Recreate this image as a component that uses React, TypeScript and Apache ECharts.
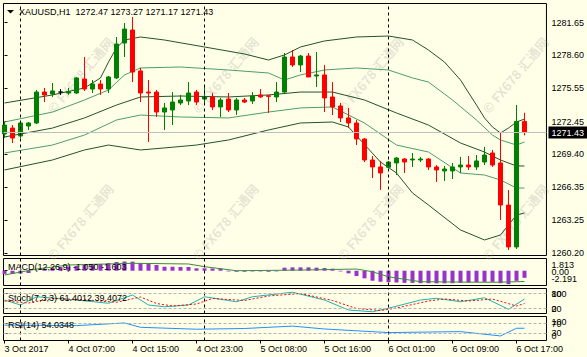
import React, { useEffect, useRef } from "react";
import * as echarts from "echarts";

const FONT = "Liberation Sans, Arial, sans-serif";
const title = "XAUUSD,H1  1272.47 1273.27 1271.17 1271.43";
const timeLabels = ["3 Oct 2017", "4 Oct 07:00", "4 Oct 15:00", "4 Oct 23:00", "5 Oct 08:00", "5 Oct 16:00", "6 Oct 01:00", "6 Oct 09:00", "6 Oct 17:00"];
const timeLabelBars = [0, 8, 16, 24, 32, 40, 48, 56, 64];
const daySeparatorBars = [2, 25, 48];
const priceTicks = [1281.65, 1278.6, 1275.55, 1272.45, 1269.4, 1266.35, 1263.25, 1260.2];
const lastPrice = 1271.43;
const macdMax = 1.813;
const macdMin = -2.191;
const macdTicks = [macdMax, 0, macdMin];
const oscEdges = [0, 100];
const stochLevels = [20, 80];
const rsiLevels = [30, 70];
const macdText = "MACD(12,26,9) -1.050 -1.603";
const stochText = "Stoch(7,3,3) 61.4012 39.4072";
const rsiText = "RSI(14) 54.0348";
const watermark = "© FX678 汇通网";

// [open, close, low, high]
const candles = [
  [1271.3, 1272.13, 1270.92, 1272.41], [1271.85, 1270.92, 1270.46, 1272.13], [1271.11, 1272.32, 1270.92, 1272.41],
  [1272.04, 1272.32, 1271.67, 1272.41], [1272.32, 1275.2, 1272.23, 1275.39], [1275.2, 1274.93, 1274.27, 1275.58],
  [1275.02, 1275.3, 1274.74, 1276.04], [1275.2, 1275.2, 1274.93, 1275.48], [1275.11, 1275.25, 1274.93, 1275.58],
  [1275.11, 1276.51, 1275.02, 1276.6], [1276.41, 1275.48, 1275.3, 1278.46], [1275.48, 1275.95, 1275.11, 1276.32],
  [1275.95, 1275.48, 1274.93, 1276.32], [1275.48, 1276.6, 1275.11, 1276.69], [1276.51, 1279.67, 1276.41, 1280.32],
  [1279.76, 1281.06, 1278.46, 1281.62], [1280.97, 1277.06, 1276.13, 1282.18], [1277.16, 1275.11, 1274.27, 1277.44],
  [1275.2, 1275.11, 1270.55, 1276.32], [1275.2, 1273.34, 1272.88, 1275.39], [1273.34, 1273.72, 1271.67, 1274.18],
  [1273.53, 1274.27, 1272.13, 1275.2], [1274.18, 1274.46, 1273.99, 1274.93], [1274.37, 1275.11, 1273.99, 1276.13],
  [1275.2, 1274.27, 1273.99, 1275.39], [1274.55, 1274.74, 1273.99, 1275.67], [1274.74, 1273.81, 1273.53, 1275.11],
  [1273.81, 1274.46, 1272.88, 1274.65], [1274.55, 1273.53, 1273.34, 1275.11], [1273.53, 1274.46, 1273.06, 1274.65],
  [1274.46, 1274.27, 1274.18, 1274.65], [1274.37, 1274.83, 1274.1, 1275.2], [1274.93, 1274.74, 1274.65, 1275.48],
  [1274.85, 1274.8, 1273.25, 1274.93], [1274.74, 1275.2, 1274.27, 1276.13], [1275.2, 1278.46, 1275.11, 1278.83],
  [1278.46, 1277.72, 1277.53, 1279.11], [1277.72, 1278.55, 1277.06, 1278.65], [1278.55, 1276.6, 1276.6, 1278.83],
  [1276.69, 1276.79, 1275.67, 1278.92], [1276.79, 1274.65, 1273.34, 1277.72], [1274.74, 1273.81, 1273.06, 1276.13],
  [1273.9, 1272.79, 1272.41, 1274.18], [1272.79, 1272.32, 1271.85, 1273.72], [1272.32, 1270.83, 1270.27, 1272.6],
  [1270.83, 1268.88, 1268.69, 1270.92], [1268.88, 1268.23, 1267.2, 1269.25], [1268.23, 1267.67, 1266.09, 1268.79],
  [1268.2, 1268.69, 1268.2, 1268.79], [1268.6, 1269.06, 1267.48, 1269.16], [1268.97, 1268.69, 1267.67, 1269.06],
  [1268.88, 1268.97, 1268.23, 1269.53], [1268.88, 1268.97, 1268.69, 1269.16], [1268.97, 1268.23, 1267.95, 1269.06],
  [1268.23, 1267.95, 1266.83, 1268.41], [1267.86, 1268.04, 1266.93, 1268.32], [1267.86, 1268.23, 1267.11, 1268.6],
  [1268.23, 1268.41, 1267.67, 1269.16], [1268.41, 1268.23, 1267.95, 1269.25], [1268.23, 1268.79, 1267.95, 1269.34],
  [1268.69, 1269.34, 1268.41, 1270.09], [1269.53, 1268.41, 1268.23, 1269.81], [1268.6, 1264.69, 1263.3, 1271.39],
  [1264.69, 1260.79, 1260.51, 1266.09], [1260.79, 1272.47, 1260.6, 1273.99], [1272.47, 1271.43, 1271.17, 1273.27],
];
const dojiBar = 7;

// bands: [bar, price]
const upperOuter = [[0,1274.18],[6,1274.93],[10,1275.58],[12,1276.51],[13,1277.99],[14,1279.3],[15,1280.04],[17,1280.32],[20,1280.04],[25,1279.39],[30,1278.74],[33,1278.18],[35,1278.65],[37,1279.39],[40,1279.95],[44,1280.32],[48,1280.41],[51,1280.04],[53,1279.11],[55,1277.99],[57,1276.32],[59,1273.99],[60,1272.79],[61,1271.95],[62,1271.39],[63,1271.85],[64,1272.41],[65,1272.69]];
const upperInner = [[0,1272.41],[6,1273.34],[10,1274.46],[13,1275.39],[15,1276.79],[17,1277.44],[22,1277.53],[28,1277.25],[33,1276.97],[35,1276.32],[37,1276.79],[40,1277.25],[44,1277.44],[48,1277.25],[51,1276.51],[53,1276.13],[56,1274.46],[59,1272.6],[61,1271.2],[62,1270.74],[64,1270.27],[65,1270.55]];
const middle = [[0,1271.02],[6,1271.85],[10,1272.79],[14,1273.99],[17,1274.74],[22,1274.83],[28,1274.74],[33,1274.93],[37,1275.2],[41,1275.2],[45,1274.46],[49,1273.25],[53,1272.13],[57,1270.46],[60,1269.62],[62,1268.88],[64,1268.32],[65,1268.32]];
const lowerInner = [[0,1269.53],[6,1270.27],[10,1271.2],[14,1272.6],[17,1273.06],[22,1272.88],[28,1272.79],[33,1273.34],[37,1273.72],[41,1273.81],[45,1272.32],[49,1270.27],[53,1269.62],[57,1267.67],[60,1267.48],[62,1267.02],[64,1266.27],[65,1266.27]];
const lowerOuter = [[0,1267.95],[6,1268.88],[10,1269.81],[13,1270.27],[17,1269.81],[20,1270.0],[24,1270.27],[28,1270.74],[33,1271.67],[37,1272.32],[41,1272.41],[43,1271.95],[47,1268.69],[49,1267.67],[51,1265.81],[53,1264.69],[57,1262.37],[60,1261.44],[62,1261.9],[64,1263.76],[65,1263.95]];

const macdHist = [-0.49,-0.49,-0.42,-0.34,-0.04,0.25,0.4,0.55,0.62,0.7,0.85,0.92,1.0,1.14,1.29,1.36,1.34,1.14,1.0,0.85,0.59,0.59,0.55,0.55,0.36,0.36,0.33,0.33,-0.1,-0.15,-0.15,-0.1,-0.1,-0.15,-0.1,0.45,0.5,0.5,0.5,0.45,0.4,0.3,-0.1,-0.39,-0.79,-1.13,-1.48,-1.63,-1.7,-1.75,-1.8,-1.8,-1.85,-1.85,-1.87,-1.87,-1.85,-1.8,-1.75,-1.7,-1.65,-1.65,-1.85,-2.0,-1.5,-1.05];
const macdSignal = [[0,-0.64],[4,0.25],[8,0.85],[16,1.1],[23,1.0],[25,0.6],[29,0.0],[37,0.1],[44,0.25],[46,-0.15],[48,-0.9],[52,-1.63],[61,-1.72],[65,-1.6]];
const stochMain = [[0,54],[2,34],[4,67],[9,54],[13,41],[16,74],[18,34],[20,27],[23,34],[25,67],[29,47],[31,67],[36,85],[40,54],[43,14],[46,7],[48,21],[52,54],[54,61],[57,47],[60,63],[63,17],[65,58]];
const stochSignal = [[0,50],[3,42],[6,60],[10,55],[14,45],[17,66],[19,40],[21,30],[24,38],[26,60],[30,52],[33,70],[37,80],[41,52],[44,20],[47,12],[49,22],[53,50],[55,58],[58,50],[61,58],[64,30],[65,40]];
const rsi = [[0,64],[9,62],[15,73],[17,55],[24,47],[30,50],[36,60],[40,48],[48,33],[57,37],[62,19],[64,51],[65,51]];

const X_MIN = -0.125, X_MAX = 67.75;
const BG = "#FFFFE8";

export default function App() {
  const ref = useRef<HTMLDivElement>(null);
  useEffect(() => {
    document.body.style.margin = "0";
    const chart = echarts.init(ref.current!, undefined, { renderer: "svg" });
    const grids = [
      { left: 3.5, top: 3.5, width: 543, height: 252 },
      { left: 3.5, top: 258.5, width: 543, height: 27 },
      { left: 3.5, top: 288.5, width: 543, height: 25 },
      { left: 3.5, top: 316.5, width: 543, height: 24 },
    ].map((g) => ({ ...g, show: true, borderColor: "#000", borderWidth: 1, backgroundColor: "transparent", containLabel: false }));
    const lbl = { fontFamily: FONT, fontSize: 9, color: "#000" };
    const xAxes = grids.map((_, i) => ({
      type: "value", gridIndex: i, min: X_MIN, max: X_MAX, show: i === 3,
      axisLine: { show: false }, splitLine: { show: false },
      axisTick: { show: i === 3, customValues: timeLabelBars, length: 3, lineStyle: { color: "#000" } },
      axisLabel: { show: i === 3, customValues: timeLabelBars, align: "left", margin: 4, ...lbl,
        formatter: (v: number) => timeLabels[timeLabelBars.indexOf(Math.round(v))] ?? "" },
    }));
    const rich = (shift: number) => ({
      t: { ...lbl, padding: [shift * 2, 0, 0, 0] },
      b: { ...lbl, padding: [0, 0, shift * 2, 0] },
      s: { ...lbl, padding: [2.6, 0, 0, 0] },
      n: { ...lbl },
    });
    const yBase = (i: number, min: number, max: number, labels: number[], ticks: number[] | null, fmt: (v: number) => string, shift = 5) => ({
      type: "value", gridIndex: i, position: "right", min, max,
      axisLine: { show: false }, splitLine: { show: false },
      axisTick: { show: !!ticks, customValues: ticks ?? labels, length: 3, lineStyle: { color: "#000" } },
      axisLabel: { customValues: labels, formatter: fmt, margin: 5, ...lbl, rich: rich(shift) },
    });
    const edgeFmt = (min: number, txt: (v: number) => string) => (v: number) =>
      Math.abs(v - min) < 1e-9 ? `{b|${txt(v)}}` : `{t|${txt(v)}}`;
    const macdFmt = (v: number) => (Math.abs(v) < 1e-9 ? "0.00" : v.toFixed(3));
    const yAxes = [
      yBase(0, 1259.994, 1283.436, priceTicks, priceTicks, (v) => `{n|${v.toFixed(2)}}`),
      yBase(1, macdMin, macdMax, [0], macdTicks, (v) => `{s|${macdFmt(v)}}`),
      yBase(2, 0, 100, stochLevels, stochLevels, (v) => `{n|${Math.round(v)}}`),
      yBase(3, 0, 100, rsiLevels, rsiLevels, (v) => `{n|${Math.round(v)}}`),
      yBase(1, macdMin, macdMax, [macdMin, macdMax], null, edgeFmt(macdMin, macdFmt), 6.2),
      yBase(2, 0, 100, oscEdges, null, edgeFmt(0, (v) => String(Math.round(v))), 5),
      yBase(3, 0, 100, oscEdges, null, edgeFmt(0, (v) => String(Math.round(v))), 5),
    ];
    const sepLines = (extra: any[] = []) => ({
      silent: true, symbol: "none", animation: false,
      label: { show: false },
      lineStyle: { color: "#000", type: [3, 3], width: 1 },
      data: [...daySeparatorBars.map((b) => ({ xAxis: b })), ...extra],
    });
    const levelLines = (vals: number[]) => vals.map((v) => ({ yAxis: v, lineStyle: { color: "#b4b4b4", type: [3, 2], width: 1 } }));
    const band = (data: number[][], color: string) => ({
      type: "line", xAxisIndex: 0, yAxisIndex: 0, data, showSymbol: false, silent: true,
      lineStyle: { color, width: 1 }, z: 1,
    });
    const wm: any[] = [];
    const wmXs = [80, 225, 370, 515];
    const wmYs = [75, 222];
    wmYs.forEach((y) => wmXs.forEach((x) => wm.push({
      type: "text", x, y, rotation: (50 * Math.PI) / 180, silent: true, z: 0,
      style: { text: watermark, fill: "rgba(160,160,160,0.28)", font: "bold 13px 'Noto Sans CJK SC', sans-serif", align: "center", verticalAlign: "middle" },
    })));
    chart.setOption({
      animation: false,
      backgroundColor: BG,
      grid: grids,
      xAxis: xAxes,
      yAxis: yAxes,
      series: [
        band(upperOuter, "#23532a"), band(upperInner, "#4e9e6a"), band(middle, "#23532a"), band(lowerInner, "#4e9e6a"), band(lowerOuter, "#23532a"),
        {
          type: "candlestick", xAxisIndex: 0, yAxisIndex: 0, barWidth: 4, z: 3,
          encode: { x: 0, y: [1, 2, 3, 4] },
          itemStyle: { color: "#008000", color0: "#ff0000", borderColor: "#008000", borderColor0: "#ff0000", borderWidth: 1 },
          data: candles.map((c, i) => (i === dojiBar
            ? { value: [i, ...c], itemStyle: { color: "#000", color0: "#000", borderColor: "#000", borderColor0: "#000" } }
            : [i, ...c])),
          markLine: sepLines([{
            yAxis: lastPrice, lineStyle: { color: "#c0c0c0", type: "solid", width: 1 },
            label: { show: true, position: "end", distance: 2, formatter: lastPrice.toFixed(2), backgroundColor: "#000", color: "#fff",
              padding: [2, 3, 1, 3], fontFamily: FONT, fontSize: 9 },
          }]),
        },
        {
          type: "bar", xAxisIndex: 1, yAxisIndex: 1, barWidth: 4, data: macdHist.map((v, i) => [i, v]),
          itemStyle: { color: "#9932CC" }, markLine: sepLines(),
        },
        { type: "line", xAxisIndex: 1, yAxisIndex: 1, data: macdSignal, showSymbol: false, lineStyle: { color: "#3c8c3c", width: 1 } },
        { type: "line", xAxisIndex: 2, yAxisIndex: 2, data: stochMain, showSymbol: false, lineStyle: { color: "#20B2AA", width: 1 }, markLine: sepLines(levelLines(stochLevels)) },
        { type: "line", xAxisIndex: 2, yAxisIndex: 2, data: stochSignal, showSymbol: false, lineStyle: { color: "#ff0000", width: 1, type: [2, 2] } },
        { type: "line", xAxisIndex: 3, yAxisIndex: 3, data: rsi, showSymbol: false, lineStyle: { color: "#1E90FF", width: 1 }, markLine: sepLines(levelLines(rsiLevels)) },
      ],
      graphic: [
        ...wm,
        { type: "polygon", shape: { points: [[7, 10], [14, 10], [10.5, 13.5]] }, style: { fill: "#000" }, z: 10 },
        { type: "text", x: 19, y: 12, z: 10, style: { text: title, fill: "#000", font: `9px ${FONT}`, verticalAlign: "middle" } },
        { type: "text", x: 8, y: 267, z: 10, style: { text: macdText, fill: "#000", font: `9px ${FONT}`, verticalAlign: "middle" } },
        { type: "text", x: 8, y: 297.5, z: 10, style: { text: stochText, fill: "#000", font: `9px ${FONT}`, verticalAlign: "middle" } },
        { type: "text", x: 8, y: 325, z: 10, style: { text: rsiText, fill: "#000", font: `9px ${FONT}`, verticalAlign: "middle" } },
      ],
    });
    return () => chart.dispose();
  }, []);
  return <div ref={ref} style={{ position: "fixed", left: 0, top: 0, width: 587, height: 357 }} />;
}
